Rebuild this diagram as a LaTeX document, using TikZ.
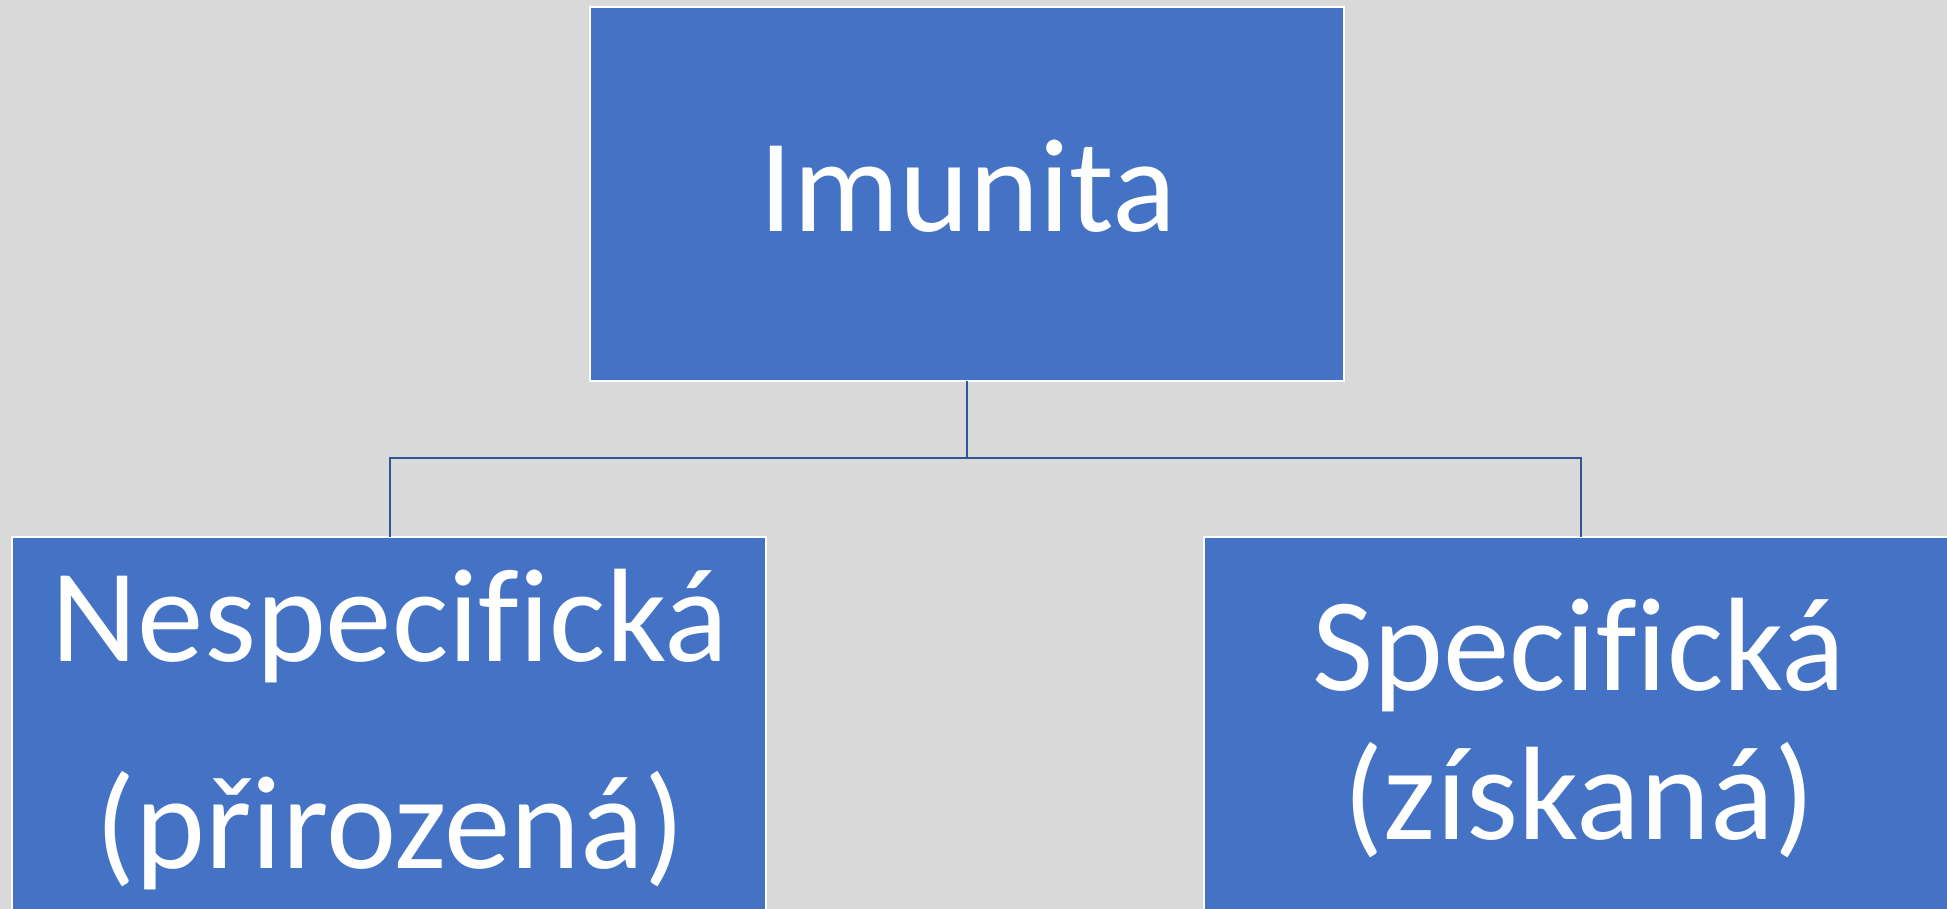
\documentclass[tikz,border=0pt]{standalone}
\usepackage{fontspec}
\setmainfont[Ligatures=NoCommon]{Carlito}
\definecolor{bgc}{HTML}{D9D9D9}
\definecolor{boxc}{HTML}{4472C4}
\definecolor{linec}{HTML}{2F5597}
\tikzset{
  box/.style={draw=white, line width=2.5pt, fill=boxc, rectangle, inner sep=0pt, outer sep=0pt, anchor=north west},
  lbl/.style={text=white, inner sep=0pt, anchor=base, font=\fontsize{133}{133}\selectfont},
  conn/.style={draw=linec, line width=2.5pt}
}
\begin{document}
\begin{tikzpicture}[x=1pt,y=-1pt]
\useasboundingbox (0,0) rectangle (1947,909);
\clip (0,0) rectangle (1947,909);
\fill[bgc] (0,0) rectangle (1947,909);
\node[box, minimum width=754pt, minimum height=374pt] (top) at (590,7) {};
\node[box, minimum width=754pt, minimum height=440pt] (left) at (12,537) {};
\node[box, minimum width=754pt, minimum height=440pt] (right) at (1204,537) {};
\coordinate (mid) at (967,458);
\draw[conn] (top.south) -- (top.south |- mid);
\draw[conn] (top.south |- mid) -| (390,537) coordinate (lt);
\draw[conn] (top.south |- mid) -| (1581,537) coordinate (rt);
\node[lbl] (t0) at (968,232) {Imunita};
\node[lbl] (t1) at (390,661) {Nespecifická};
\node[lbl] (t2) at (390,868) {(přirozená)};
\node[lbl] (t3) at (1579,690) {Specifická};
\node[lbl] (t4) at (1579,839) {(získaná)};
\end{tikzpicture}
\end{document}
